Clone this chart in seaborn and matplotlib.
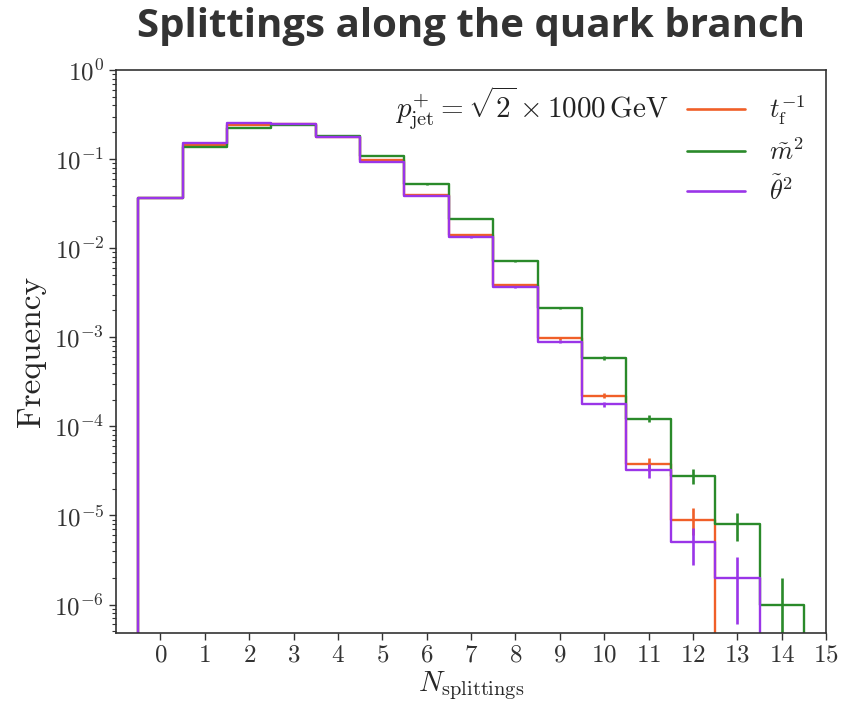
import numpy as np
import pandas as pd
import matplotlib
matplotlib.use("Agg")
import matplotlib.pyplot as plt
from matplotlib.lines import Line2D
from matplotlib.ticker import FuncFormatter, NullFormatter, FixedLocator
import seaborn as sns

# ---------------- data ----------------
n_splittings = list(range(15))
series_labels = [r"$t_\mathrm{f}^{-1}$", r"$\tilde{m}^2$", r"$\tilde{\theta}^2$"]

freq_tf = [0.0365, 0.145, 0.240, 0.248, 0.178, 0.097, 0.040, 0.0141, 0.00384,
           0.000975, 0.000221, 3.8e-5, 9e-6, 0.0, 0.0]
err_tf = [1.9e-4, 3.8e-4, 4.9e-4, 5.0e-4, 4.2e-4, 3.1e-4, 2.0e-4, 1.2e-4, 6.2e-5,
          3.1e-5, 1.5e-5, 6.2e-6, 3.0e-6, 0.0, 0.0]

freq_m2 = [0.0365, 0.136, 0.225, 0.243, 0.182, 0.108, 0.052, 0.0212, 0.00714,
           0.00214, 0.000586, 0.000122, 2.8e-5, 8e-6, 1e-6]
err_m2 = [1.9e-4, 3.7e-4, 4.7e-4, 4.9e-4, 4.3e-4, 3.3e-4, 2.3e-4, 1.5e-4, 8.4e-5,
          4.6e-5, 2.4e-5, 1.1e-5, 5.3e-6, 2.8e-6, 1.0e-6]

freq_th2 = [0.0365, 0.151, 0.252, 0.250, 0.178, 0.093, 0.0387, 0.0132, 0.00364,
            0.000893, 0.000177, 3.2e-5, 5e-6, 2e-6, 0.0]
err_th2 = [1.9e-4, 3.9e-4, 5.0e-4, 5.0e-4, 4.2e-4, 3.0e-4, 2.0e-4, 1.1e-4, 6.0e-5,
           3.0e-5, 1.3e-5, 5.7e-6, 2.2e-6, 1.4e-6, 0.0]

colors = ["#f05f28", "#2a8a2a", "#9a35e8"]
x_ticks = list(range(16))
y_exponents = [-6, -5, -4, -3, -2, -1, 0]

# ---------------- style ----------------
sns.set_style("ticks")
plt.rcParams["font.family"] = ["cmr10", "DejaVu Serif"]
plt.rcParams["mathtext.fontset"] = "cm"
plt.rcParams["axes.formatter.use_mathtext"] = True
plt.rcParams["axes.edgecolor"] = "#333333"
plt.rcParams["xtick.color"] = "#333333"
plt.rcParams["ytick.color"] = "#333333"

fig = plt.figure(figsize=(8.43, 7.07), dpi=100)
ax = fig.add_axes([0.1376, 0.1047, 0.8424, 0.7963])
ax.set_yscale("log")

series = [(freq_tf, err_tf), (freq_m2, err_m2), (freq_th2, err_th2)]
for (vals, errs), col in zip(series, colors):
    xs = [n_splittings[0] - 1] + n_splittings + [n_splittings[-1] + 1]
    ws = [0.0] + list(vals) + [0.0]
    df = pd.DataFrame({"n": xs, "w": ws})
    edges = [float(v) - 0.5 for v in xs] + [xs[-1] + 0.5]
    sns.histplot(data=df, x="n", weights="w", bins=edges, element="step", fill=False,
                 color=col, linewidth=1.7, ax=ax)
    ax.errorbar(n_splittings, vals, yerr=errs, fmt="none", ecolor=col,
                elinewidth=1.9, capsize=0)

ax.set_xlim(-1, 15)
ax.set_ylim(4.8e-7, 1.0)
ax.xaxis.set_major_locator(FixedLocator(x_ticks))
major_y = [10.0 ** e for e in y_exponents]
minor_y = [m * 10.0 ** e for e in [-7] + y_exponents[:-1] for m in range(2, 10)
           if 4.8e-7 <= m * 10.0 ** e <= 1.0]
ax.yaxis.set_major_locator(FixedLocator(major_y))
ax.yaxis.set_minor_locator(FixedLocator(minor_y))
ax.yaxis.set_minor_formatter(NullFormatter())
ax.yaxis.set_major_formatter(FuncFormatter(lambda v, p: r"$10^{%d}$" % int(round(np.log10(v)))))
ax.tick_params(axis="both", which="major", labelsize=18, length=5, width=1.0, direction="out")
ax.tick_params(axis="y", which="minor", length=3, width=0.8, direction="out")
for s in ax.spines.values():
    s.set_visible(True)
    s.set_linewidth(1.2)

ax.set_xlabel(r"$N_\mathrm{splittings}$", fontsize=21, labelpad=2)
ax.set_ylabel("Frequency", fontsize=24, labelpad=6)

ax.text(0.778, 0.9325, r"$p_\mathrm{jet}^{+} = \sqrt{2} \times 1000\,\mathrm{GeV}$",
        transform=ax.transAxes, ha="right", va="center", fontsize=21, color="#222222")

handles = [Line2D([], [], color=c, lw=1.9) for c in colors]
ax.legend(handles, series_labels, loc="upper right", frameon=False, fontsize=19,
          handlelength=2.2, labelspacing=0.42, handletextpad=0.9,
          bbox_to_anchor=(1.004, 1.0))

fig.suptitle("Splittings along the quark branch", x=0.559, y=0.99,
             fontsize=29, fontweight="bold", family="Open Sans", color="#333333")

fig.savefig("out.png", dpi=100)
